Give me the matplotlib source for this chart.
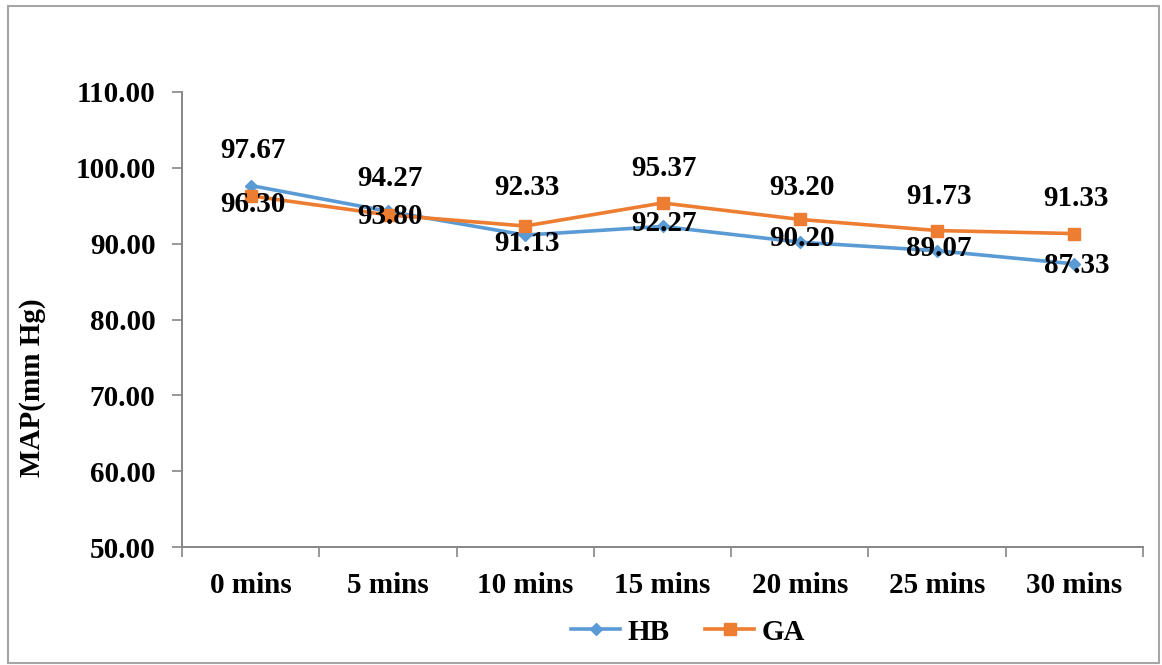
import matplotlib
matplotlib.use("Agg")
import matplotlib.pyplot as plt
from matplotlib.lines import Line2D
from matplotlib.patches import Rectangle
from matplotlib.ticker import FixedLocator, FuncFormatter

# ---- data ----
categories = ["0 mins", "5 mins", "10 mins", "15 mins", "20 mins", "25 mins", "30 mins"]
hb_values = [97.67, 94.27, 91.13, 92.27, 90.20, 89.07, 87.33]
ga_values = [96.30, 93.80, 92.33, 95.37, 93.20, 91.73, 91.33]
y_ticks = [50, 60, 70, 80, 90, 100, 110]

# ---- styling ----
HB_COLOR = "#5B9BD5"
GA_COLOR = "#ED7D31"
AXIS_COLOR = "#868686"
FONT = ["Liberation Serif", "DejaVu Serif"]
FS = 21

# vertical offsets (pixels, up is positive) for the value labels
hb_label_dy = [35, 33, -8, 3, 4, 2, -2]
ga_label_dy = [-9, -2, 38, 34, 32, 34, 35]

plt.rcParams["font.family"] = FONT
plt.rcParams["font.weight"] = "bold"

W, H = 1162, 665
fig = plt.figure(figsize=(W / 100, H / 100), dpi=100)
fig.patch.set_facecolor("white")

ax = fig.add_axes([182 / W, 1 - 547 / H, (1143 - 182) / W, (547 - 92) / H])
x = list(range(len(categories)))

ax.plot(x, hb_values, color=HB_COLOR, lw=2.6, marker="D", ms=6,
        markerfacecolor=HB_COLOR, markeredgecolor=HB_COLOR, zorder=3, label="HB")
ax.plot(x, ga_values, color=GA_COLOR, lw=2.6, marker="s", ms=8,
        markerfacecolor=GA_COLOR, markeredgecolor=GA_COLOR, zorder=3, label="GA")

for xi, v, dy in zip(x, hb_values, hb_label_dy):
    ax.annotate(f"{v:.2f}", (xi, v), xytext=(2, dy), textcoords="offset pixels",
                ha="center", va="center", fontsize=FS, fontweight="bold",
                color="black", zorder=4)
for xi, v, dy in zip(x, ga_values, ga_label_dy):
    ax.annotate(f"{v:.2f}", (xi, v), xytext=(2, dy), textcoords="offset pixels",
                ha="center", va="center", fontsize=FS, fontweight="bold",
                color="black", zorder=4)

ax.set_xlim(-0.5, len(categories) - 0.5)
ax.set_ylim(50, 110)

ax.set_yticks(y_ticks)
ax.yaxis.set_major_formatter(FuncFormatter(lambda v, p: f"{v:.2f}"))
ax.tick_params(axis="y", direction="out", length=7, width=1.2, color=AXIS_COLOR,
               pad=12, labelsize=FS)

ax.set_xticks(x)
ax.set_xticklabels(categories)
ax.xaxis.set_minor_locator(FixedLocator([i - 0.5 for i in range(len(categories) + 1)]))
ax.tick_params(axis="x", which="major", length=0, pad=18, labelsize=FS)
ax.tick_params(axis="x", which="minor", direction="out", length=7, width=1.2,
               color=AXIS_COLOR)
for lbl in ax.get_xticklabels() + ax.get_yticklabels():
    lbl.set_fontweight("bold")

for side in ("top", "right"):
    ax.spines[side].set_visible(False)
for side in ("left", "bottom"):
    ax.spines[side].set_color(AXIS_COLOR)
    ax.spines[side].set_linewidth(1.4)

fig.text(33 / W, 1 - 388 / H, "MAP(mm Hg)", rotation=90, ha="center", va="center",
         fontsize=FS, fontweight="bold")

handles = [
    Line2D([], [], color=HB_COLOR, lw=2.6, marker="D", ms=6, label="HB"),
    Line2D([], [], color=GA_COLOR, lw=2.6, marker="s", ms=8, label="GA"),
]
fig.legend(handles=handles, loc="center", bbox_to_anchor=(688 / W, 1 - 632 / H),
           ncol=2, frameon=False, handlelength=1.7, handletextpad=0.25,
           columnspacing=1.2, prop={"family": FONT, "weight": "bold", "size": FS})

# outer chart-area border
fig.patches.append(Rectangle((8 / W, 2 / H), (1159 - 8) / W, (659 - 2) / H,
                             transform=fig.transFigure, fill=False,
                             edgecolor="#A6A6A6", lw=1.5))

fig.savefig("out.png", dpi=100, facecolor="white")
